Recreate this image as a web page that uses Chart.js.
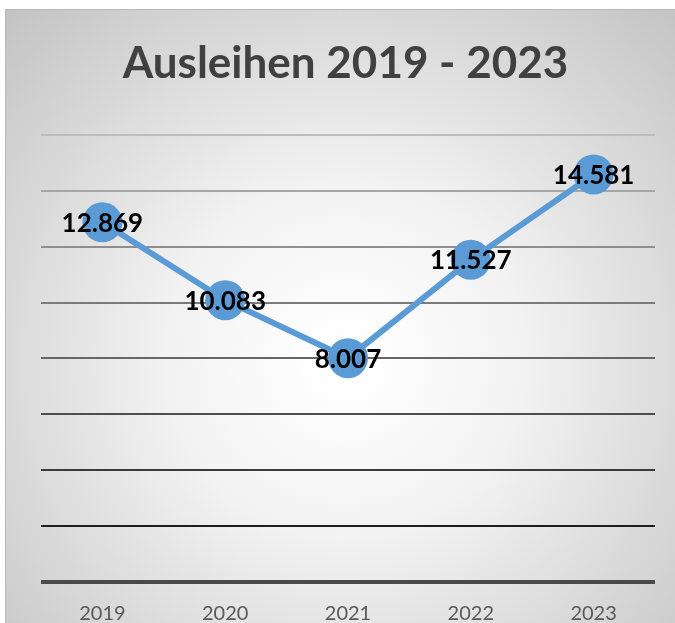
<!DOCTYPE html>
<html>
<head>
<meta charset="utf-8">
<script src="https://cdn.jsdelivr.net/npm/chart.js@4"></script>
<style>
  html, body { margin: 0; padding: 0; background: #fff; }
  canvas { display: block; }
</style>
</head>
<body>
<canvas id="grafico-ausleihen" width="675" height="623"></canvas>
<script>
// Datos del gráfico
const jahre = ['2019', '2020', '2021', '2022', '2023'];
const ausleihen = [12869, 10083, 8007, 11527, 14581];
const titel = 'Ausleihen 2019 - 2023';

// Farben der Gitterlinien (von unten nach oben)
const gitterFarben = ['#4a4a4a', '#1e1e1e', '#3a3a3a', '#4e4e4e', '#666666', '#7a7a7a', '#8e8e8e', '#a6a6a6', '#bdbdbd'];

// Hintergrund mit radialem Verlauf
const hintergrund = {
  id: 'hintergrund',
  beforeDraw(chart) {
    const ctx = chart.ctx;
    ctx.save();
    ctx.fillStyle = '#fff';
    ctx.fillRect(0, 0, chart.width, chart.height);
    const g = ctx.createRadialGradient(345, 360, 20, 345, 360, 480);
    g.addColorStop(0, '#ffffff');
    g.addColorStop(0.35, '#f2f2f2');
    g.addColorStop(1, '#c4c4c4');
    ctx.fillStyle = g;
    ctx.fillRect(6, 10, chart.width - 6, chart.height - 10);
    ctx.strokeStyle = '#b8b8b8';
    ctx.lineWidth = 1;
    ctx.beginPath();
    ctx.moveTo(5.5, chart.height);
    ctx.lineTo(5.5, 9.5);
    ctx.lineTo(chart.width, 9.5);
    ctx.stroke();
    ctx.restore();
  }
};

// Werte über den Punkten
const werteLabels = {
  id: 'werteLabels',
  afterDatasetsDraw(chart) {
    const ctx = chart.ctx;
    const meta = chart.getDatasetMeta(0);
    ctx.save();
    ctx.font = 'bold 26px Lato';
    ctx.fillStyle = '#000';
    ctx.textAlign = 'center';
    ctx.textBaseline = 'middle';
    meta.data.forEach((p, i) => {
      ctx.fillText(ausleihen[i].toLocaleString('de-DE'), p.x, p.y + 1);
    });
    ctx.restore();
  }
};

const ctx = document.getElementById('grafico-ausleihen').getContext('2d');
new Chart(ctx, {
  type: 'line',
  data: {
    labels: jahre,
    datasets: [{
      label: 'Ausleihen',
      data: ausleihen,
      borderColor: '#5b9bd5',
      backgroundColor: '#5b9bd5',
      borderWidth: 6,
      pointRadius: 20,
      pointHoverRadius: 20,
      pointBorderWidth: 0,
      tension: 0
    }]
  },
  options: {
    responsive: false,
    animation: false,
    layout: { padding: { left: 18, right: 2, top: 0, bottom: -15 } },
    plugins: {
      legend: { display: false },
      tooltip: { enabled: false },
      title: {
        display: true,
        text: titel,
        color: '#404040',
        font: { family: 'Lato', size: 44, weight: 'bold' },
        padding: { top: 37, bottom: 45 }
      }
    },
    scales: {
      x: {
        offset: true,
        grid: { display: false },
        border: { display: false },
        ticks: {
          color: '#595959',
          font: { family: 'Lato', size: 20 },
          padding: 12
        }
      },
      y: {
        min: 0,
        max: 16000,
        ticks: { display: false, stepSize: 2000 },
        border: { display: false },
        grid: {
          drawTicks: false,
          color: c => gitterFarben[c.index] || '#888',
          lineWidth: c => c.index === 0 ? 4 : 2
        },
        afterFit(scale) {
          scale.width = 23;
        }
      }
    }
  },
  plugins: [hintergrund, werteLabels]
});
</script>
</body>
</html>
